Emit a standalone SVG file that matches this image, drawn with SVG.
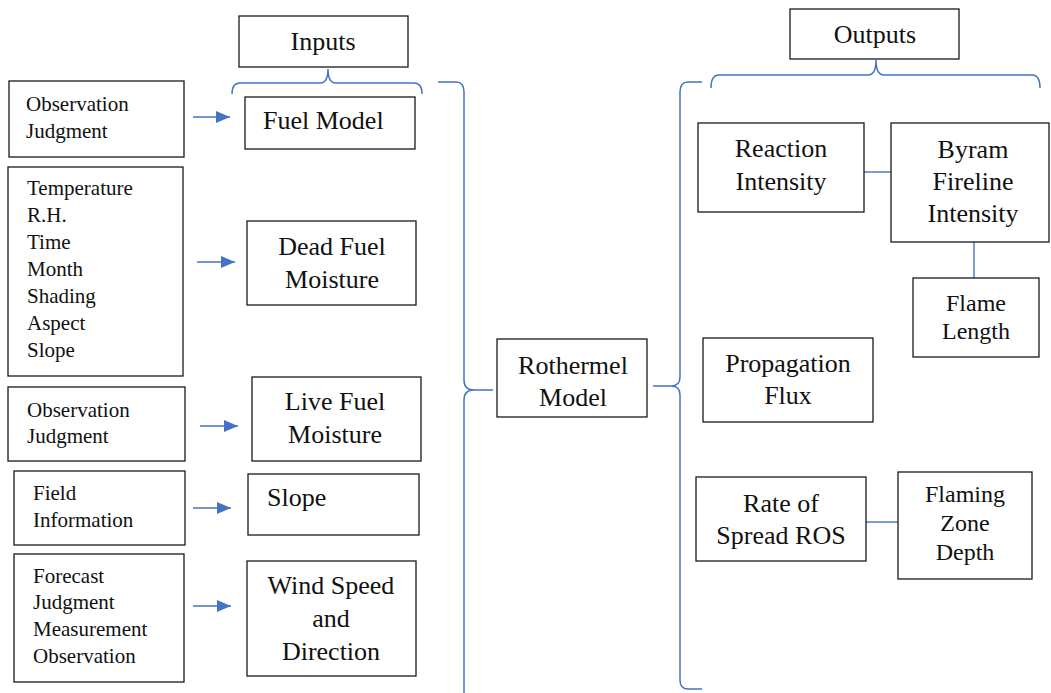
<svg xmlns="http://www.w3.org/2000/svg" width="1051" height="693" viewBox="0 0 1051 693" font-family="Liberation Serif, Times New Roman, serif">
<style>
text{fill:#111}
.big{font-size:26px}
.mid{font-size:24px}
.sm{font-size:21px}
.c{text-anchor:middle}
.box{fill:#fff;stroke:#1a1a1a;stroke-width:1.3}
.br{fill:none;stroke:#4472C4;stroke-width:1.5}
.ln{fill:none;stroke:#4472C4;stroke-width:1.4}
</style>
<defs>
<marker id="ah" viewBox="0 0 14 12" refX="14" refY="6" markerWidth="14" markerHeight="12" markerUnits="userSpaceOnUse" orient="auto">
<path d="M0,0 L14,6 L0,12 Z" fill="#4472C4"/>
</marker>
</defs>
<g id="connectors">
<path class="br" d="M232,94 Q232,83 240,83 L320,83 Q328,83 328,69 Q328,83 336,83 L414,83 Q422,83 422,94"/>
<path class="br" d="M438,82 L456,82 Q464,82 464,92 L464,380 Q464,390 474,390 L493,390 M474,390 Q464,390 464,400 L464,693"/>
<path class="br" d="M711,88 Q711,75 719,75 L868,75 Q876,75 876,60 Q876,75 884,75 L1032,75 Q1040,75 1040,88"/>
<path class="br" d="M702,82 L688,82 Q680,82 680,92 L680,377 Q680,386 671,386 L653,386 M671,386 Q680,386 680,395 L680,680 Q680,689 688,689 L702,689"/>
<line class="ln" x1="193" y1="117" x2="230" y2="117" marker-end="url(#ah)"/>
<line class="ln" x1="197" y1="262" x2="235" y2="262" marker-end="url(#ah)"/>
<line class="ln" x1="200" y1="426" x2="238" y2="426" marker-end="url(#ah)"/>
<line class="ln" x1="193" y1="508" x2="231" y2="508" marker-end="url(#ah)"/>
<line class="ln" x1="193" y1="606" x2="231" y2="606" marker-end="url(#ah)"/>
<line class="ln" x1="864" y1="172" x2="891" y2="172"/>
<line class="ln" x1="974" y1="242" x2="974" y2="278"/>
<line class="ln" x1="866" y1="522" x2="898" y2="522"/>
</g>
<g id="inputs">
<rect class="box" x="239" y="16" width="169" height="51"/>
<text class="big c" x="323" y="50">Inputs</text>
</g>
<g id="outputs">
<rect class="box" x="790" y="9" width="169" height="50"/>
<text class="big c" x="875" y="43">Outputs</text>
</g>
<g id="src-fuel-model">
<rect class="box" x="9" y="81" width="175" height="76"/>
<text class="sm" x="26" y="111">Observation</text>
<text class="sm" x="26" y="138">Judgment</text>
</g>
<g id="fuel-model">
<rect class="box" x="245" y="97" width="170" height="52"/>
<text class="big" x="263" y="129">Fuel Model</text>
</g>
<g id="src-dead-fuel">
<rect class="box" x="8" y="167" width="175" height="209"/>
<text class="sm" x="27" y="195">Temperature</text>
<text class="sm" x="27" y="222">R.H.</text>
<text class="sm" x="27" y="249">Time</text>
<text class="sm" x="27" y="276">Month</text>
<text class="sm" x="27" y="303">Shading</text>
<text class="sm" x="27" y="330">Aspect</text>
<text class="sm" x="27" y="357">Slope</text>
</g>
<g id="dead-fuel">
<rect class="box" x="247" y="221" width="169" height="84"/>
<text class="big c" x="332" y="255">Dead Fuel</text>
<text class="big c" x="332" y="288">Moisture</text>
</g>
<g id="src-live-fuel">
<rect class="box" x="8" y="387" width="177" height="74"/>
<text class="sm" x="27" y="417">Observation</text>
<text class="sm" x="27" y="443">Judgment</text>
</g>
<g id="live-fuel">
<rect class="box" x="252" y="377" width="169" height="84"/>
<text class="big c" x="335" y="410">Live Fuel</text>
<text class="big c" x="335" y="443">Moisture</text>
</g>
<g id="src-slope">
<rect class="box" x="14" y="471" width="171" height="74"/>
<text class="sm" x="33" y="500">Field</text>
<text class="sm" x="33" y="527">Information</text>
</g>
<g id="slope">
<rect class="box" x="248" y="474" width="171" height="61"/>
<text class="big" x="267" y="506">Slope</text>
</g>
<g id="src-wind">
<rect class="box" x="14" y="554" width="170" height="128"/>
<text class="sm" x="33" y="583">Forecast</text>
<text class="sm" x="33" y="609">Judgment</text>
<text class="sm" x="33" y="636">Measurement</text>
<text class="sm" x="33" y="663">Observation</text>
</g>
<g id="wind">
<rect class="box" x="247" y="561" width="169" height="115"/>
<text class="big c" x="331" y="594">Wind Speed</text>
<text class="big c" x="331" y="627">and</text>
<text class="big c" x="331" y="660">Direction</text>
</g>
<g id="rothermel">
<rect class="box" x="497" y="339" width="150" height="78"/>
<text class="big c" x="573" y="374">Rothermel</text>
<text class="big c" x="573" y="406">Model</text>
</g>
<g id="reaction-intensity">
<rect class="box" x="698" y="123" width="166" height="89"/>
<text class="big c" x="781" y="157">Reaction</text>
<text class="big c" x="781" y="190">Intensity</text>
</g>
<g id="byram">
<rect class="box" x="891" y="123" width="158" height="119"/>
<text class="big c" x="973" y="158">Byram</text>
<text class="big c" x="973" y="190">Fireline</text>
<text class="big c" x="973" y="222">Intensity</text>
</g>
<g id="flame-length">
<rect class="box" x="913" y="278" width="126" height="79"/>
<text class="mid c" x="976" y="311">Flame</text>
<text class="mid c" x="976" y="339">Length</text>
</g>
<g id="propagation-flux">
<rect class="box" x="703" y="338" width="170" height="84"/>
<text class="big c" x="788" y="372">Propagation</text>
<text class="big c" x="788" y="404">Flux</text>
</g>
<g id="ros">
<rect class="box" x="696" y="477" width="170" height="84"/>
<text class="big c" x="781" y="512">Rate of</text>
<text class="big c" x="781" y="544">Spread ROS</text>
</g>
<g id="flaming-zone">
<rect class="box" x="898" y="472" width="134" height="107"/>
<text class="mid c" x="965" y="502">Flaming</text>
<text class="mid c" x="965" y="531">Zone</text>
<text class="mid c" x="965" y="560">Depth</text>
</g>
</svg>
